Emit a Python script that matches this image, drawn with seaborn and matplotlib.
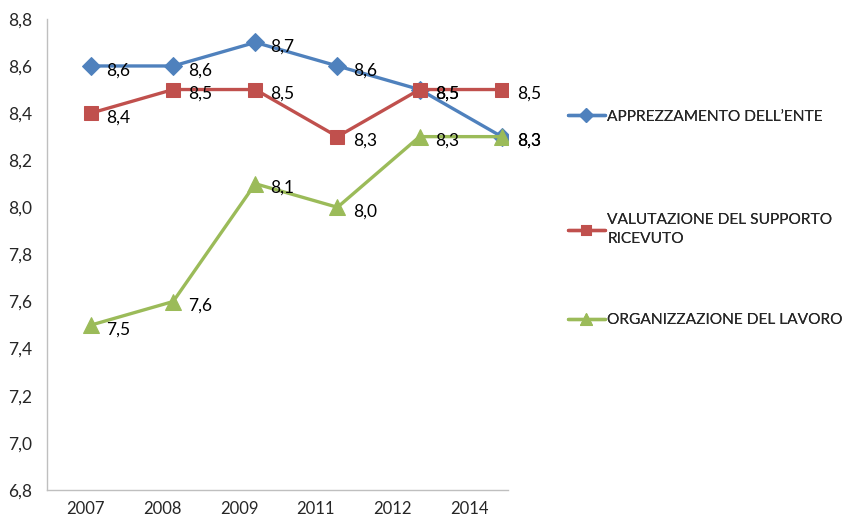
import numpy as np
import pandas as pd
import seaborn as sns
import matplotlib.pyplot as plt
from matplotlib.ticker import FuncFormatter, FixedLocator

# dati
anni = ["2007", "2008", "2009", "2011", "2012", "2014"]
apprezzamento = [8.6, 8.6, 8.7, 8.6, 8.5, 8.3]
supporto = [8.4, 8.5, 8.5, 8.3, 8.5, 8.5]
organizzazione = [7.5, 7.6, 8.1, 8.0, 8.3, 8.3]
serie_nomi = [
    "APPREZZAMENTO DELL\u2019ENTE",
    "VALUTAZIONE DEL SUPPORTO\nRICEVUTO",
    "ORGANIZZAZIONE DEL LAVORO",
]
colori = ["#4F81BD", "#C0504D", "#9BBB59"]
marcatori = ["D", "s", "^"]

sns.set_style("white")
plt.rcParams["font.family"] = ["Lato", "DejaVu Sans"]

righe = []
for nome, valori in zip(serie_nomi, [apprezzamento, supporto, organizzazione]):
    for i, v in enumerate(valori):
        righe.append({"pos": i, "valore": v, "serie": nome})
df = pd.DataFrame(righe)

fig = plt.figure(figsize=(8.42, 5.24), dpi=100)
ax = fig.add_axes([0.056, 0.065, 0.547, 0.899])

sizes = {"D": 9, "s": 10, "^": 11}
for nome, col, m in zip(serie_nomi, colori, marcatori):
    sub = df[df["serie"] == nome]
    sns.lineplot(data=sub, x="pos", y="valore", ax=ax, color=col, linewidth=2.4,
                 marker=m, markersize=sizes[m], markeredgecolor=col,
                 label=nome, legend=False)
    for _, r in sub.iterrows():
        ax.annotate(f"{r['valore']:.1f}".replace(".", ","), (r["pos"], r["valore"]),
                    xytext=(11, -3), textcoords="offset points",
                    ha="left", va="center", fontsize=12.5, color="#000000")

# assi
ax.set_ylim(6.8, 8.8)
ax.set_yticks(np.arange(6.8, 8.81, 0.2))
ax.yaxis.set_major_formatter(FuncFormatter(lambda v, p: f"{v:.1f}".replace(".", ",")))

passo = 77 / 82.4
x0 = -0.534
ax.set_xlim(x0, x0 + 6 * passo)
ax.xaxis.set_major_locator(FixedLocator([x0 + (k + 0.5) * passo for k in range(6)]))
ax.set_xticklabels(anni)
ax.xaxis.set_minor_locator(FixedLocator([x0 + k * passo for k in range(7)]))
ax.tick_params(axis="x", which="major", length=0, pad=8, labelsize=12)
ax.tick_params(axis="x", which="minor", length=5, color="#BFBFBF", width=1)
ax.tick_params(axis="y", length=5, color="#BFBFBF", width=1, pad=6, labelsize=12.5)
ax.set_xlabel("")
ax.set_ylabel("")
for s in ["top", "right"]:
    ax.spines[s].set_visible(False)
for s in ["left", "bottom"]:
    ax.spines[s].set_color("#BFBFBF")
    ax.spines[s].set_linewidth(1)

# legenda: una voce per volta, come in Excel
handles, labels = ax.get_legend_handles_labels()
posizioni = [0.777, 0.562, 0.389]
for h, l, y in zip(handles, labels, posizioni):
    leg = fig.legend([h], [l], loc="center left", bbox_to_anchor=(0.674, y),
                     frameon=False, fontsize=11.2, handlelength=2.4,
                     handletextpad=0.15, markerscale=0.75, borderaxespad=0,
                     borderpad=0)
    leg.get_texts()[0].set_linespacing(1.45)
    fig.add_artist(leg)

fig.savefig("out.png", dpi=100)
